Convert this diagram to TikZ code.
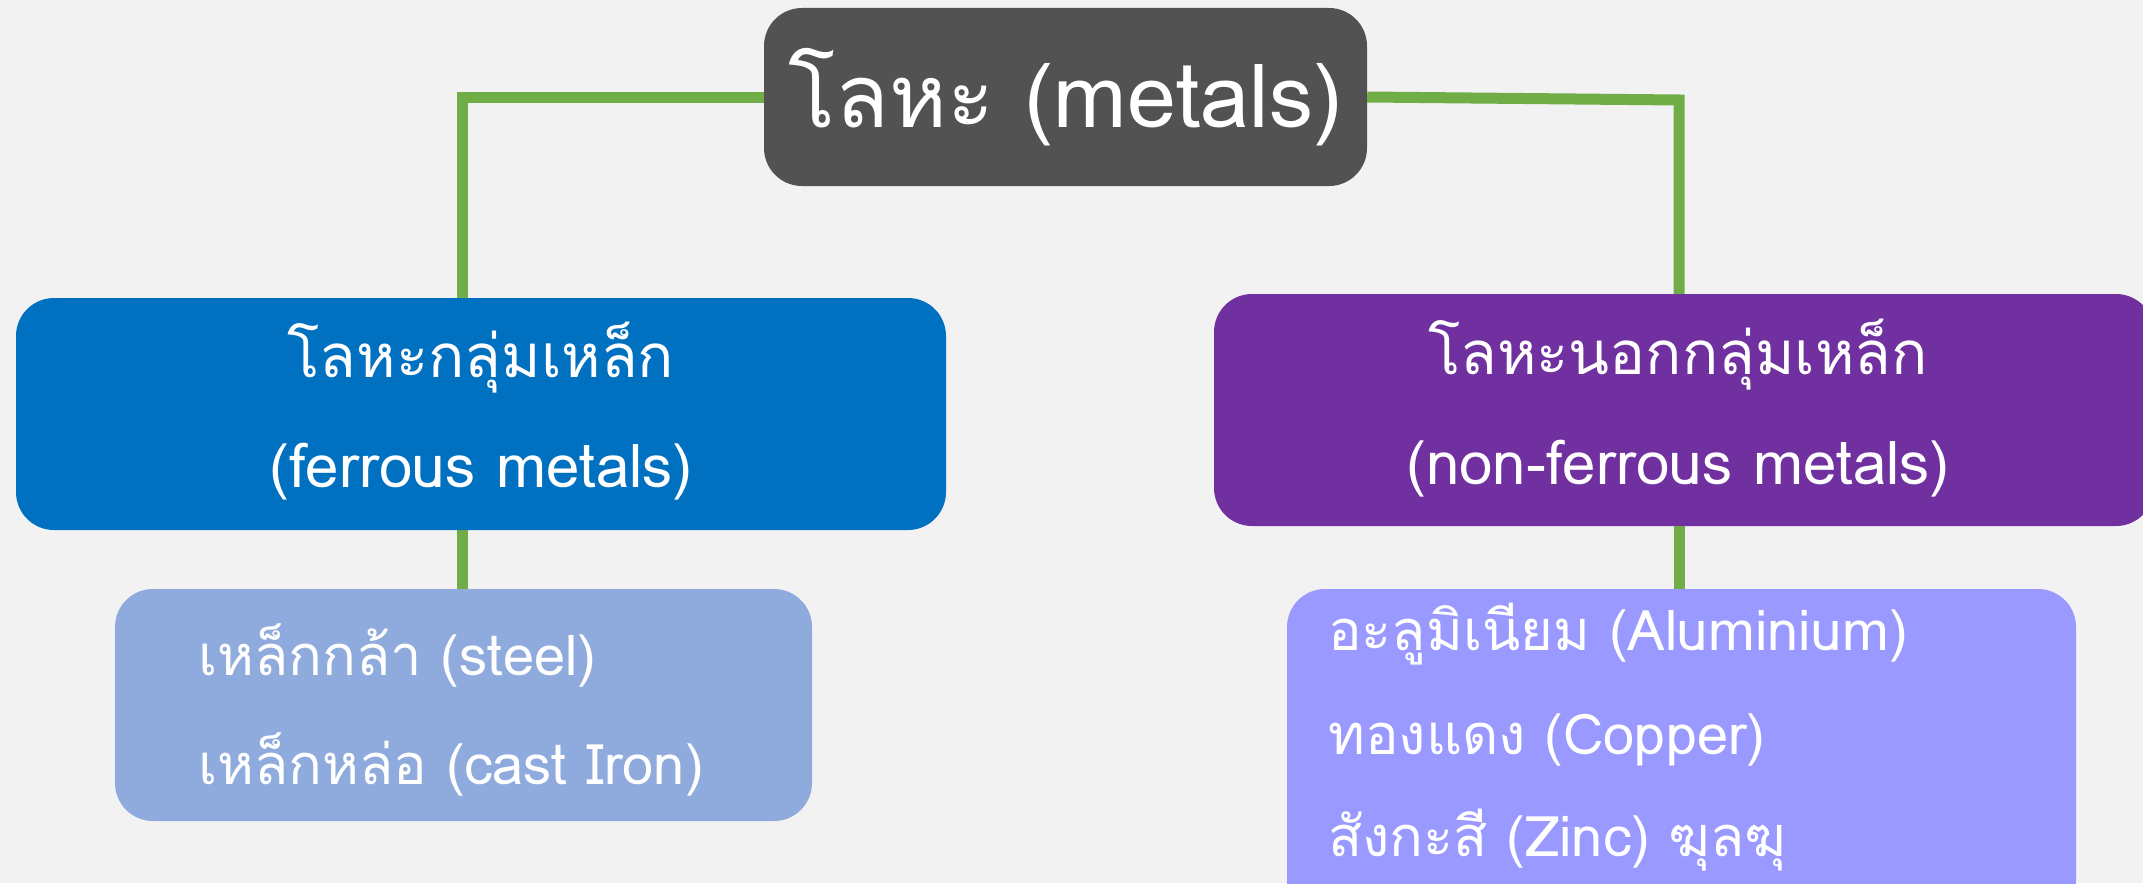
\documentclass[tikz,border=0pt]{standalone}
\usepackage{fontspec}
\setmainfont[Script=Thai]{Loma}
\definecolor{bg}{HTML}{F2F2F2}
\definecolor{topc}{HTML}{525252}
\definecolor{ferc}{HTML}{0070C0}
\definecolor{nonc}{HTML}{7030A0}
\definecolor{steelc}{HTML}{8FAADC}
\definecolor{alc}{HTML}{9999FF}
\definecolor{linec}{HTML}{70AD47}
\tikzset{
  box/.style={rectangle, rounded corners=38pt, draw=none, inner sep=0pt},
  conn/.style={draw=linec, line width=11pt},
  txt/.style={text=white, inner sep=0pt},
  headtxt/.style={txt, font=\fontsize{60}{68}\selectfont},
  itemtxt/.style={txt, anchor=west, font=\fontsize{56}{64}\selectfont},
}
\begin{document}
\begin{tikzpicture}[x=1pt,y=1pt]
\useasboundingbox[fill=bg] (0,0) rectangle (2143,-883);
\coordinate (lc) at (462,-97);
\coordinate (rc) at (1679,-100);
% boxes
\node[box, fill=topc, minimum width=603pt, minimum height=178pt] (top) at (1065.5,-97) {};
\node[box, fill=ferc, minimum width=930pt, minimum height=232pt] (fer) at (481,-414) {};
\node[box, fill=nonc, minimum width=940pt, minimum height=232pt] (non) at (1684,-410) {};
\node[box, fill=steelc, minimum width=697pt, minimum height=232pt] (steel) at (463.5,-705) {};
\node[box, fill=alc, minimum width=789pt, minimum height=330pt] (al) at (1681.5,-754) {};
% connectors
\draw[conn] (top.west) -- (lc) -- (lc |- fer.north);
\draw[conn] (top.east) -- (rc) -- (rc |- non.north);
\draw[conn] (lc |- fer.south) -- (lc |- steel.north);
\draw[conn] (rc |- non.south) -- (rc |- al.north);
% texts
\node[txt, font=\fontsize{88}{96}\selectfont] (ttop) at (top.center) {โลหะ (metals)};
\node[headtxt] (tfer1) at (481,-358) {โลหะกลุ่มเหล็ก};
\node[headtxt] (tfer2) at (481,-472) {(ferrous metals)};
\node[headtxt] (tnon1) at (1678,-355) {โลหะนอกกลุ่มเหล็ก};
\node[headtxt] (tnon2) at (1678,-469) {(non-ferrous metals)};
\node[itemtxt] (ts1) at (198,-655) {เหล็กกล้า (steel)};
\node[itemtxt] (ts2) at (198,-764) {เหล็กหล่อ (cast Iron)};
\node[itemtxt] (ta1) at (1328,-634) {อะลูมิเนียม (Aluminium)};
\node[itemtxt] (ta2) at (1328,-740) {ทองแดง (Copper)};
\node[itemtxt] (ta3) at (1328,-840) {สังกะสี (Zinc) ฆุลฆุ};
\end{tikzpicture}
\end{document}
